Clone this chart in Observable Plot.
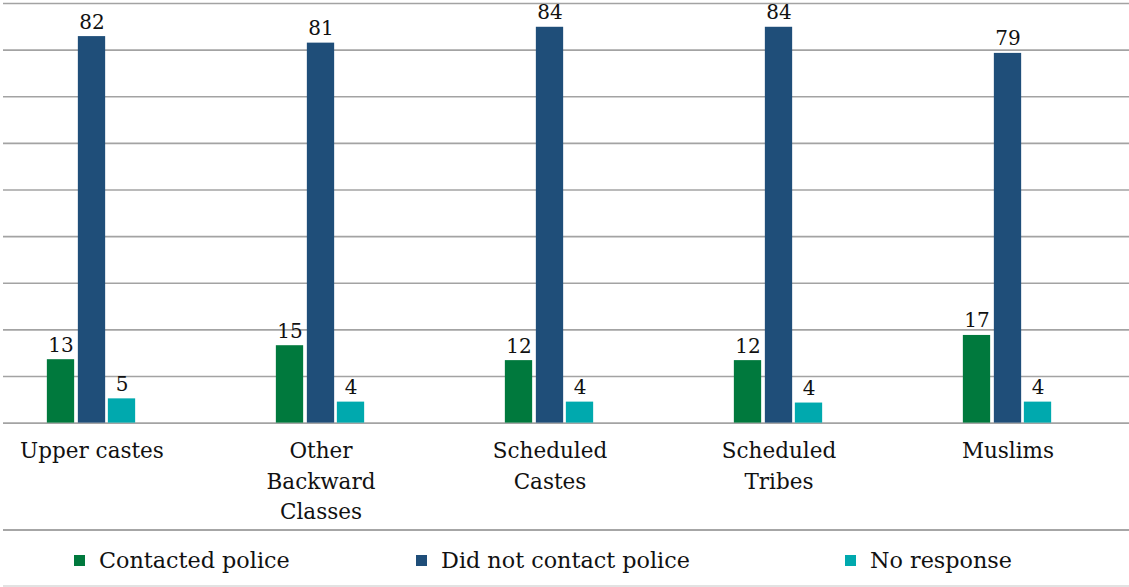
<!DOCTYPE html>
<html>
<head>
<meta charset="utf-8">
<script src="https://cdn.jsdelivr.net/npm/d3@7"></script>
<script src="https://cdn.jsdelivr.net/npm/@observablehq/plot@0.6"></script>
<style>
  html, body { margin: 0; padding: 0; background: #fff; }
  body { width: 1129px; height: 587px; overflow: hidden; font-family: "DejaVu Serif", serif; }
  #chart svg { display: block; }
  #legend { position: relative; margin-left: 3px; width: 1126px; height: 54px;
            border-top: 2px solid #a6a6a6; border-bottom: 2px solid #e2e2e2; }
  .item { position: absolute; top: 2px; height: 54px; display: flex; align-items: center;
          font-size: 22.3px; color: #111; }
  .sw { width: 11px; height: 11px; margin-right: 14px; }
</style>
</head>
<body>
<div id="chart"></div>
<div id="legend"></div>
<script>
// Categories and series
const categories = ["Upper castes", "Other\nBackward\nClasses", "Scheduled\nCastes", "Scheduled\nTribes", "Muslims"];
const series = ["Contacted police", "Did not contact police", "No response"];
// Bar heights
const contacted = [13.6, 16.6, 13.4, 13.4, 18.8];
const notContacted = [82.9, 81.5, 84.9, 84.9, 79.3];
const noResponse = [5.2, 4.5, 4.5, 4.3, 4.5];
// Data labels as printed
const contactedLabels = ["13", "15", "12", "12", "17"];
const notContactedLabels = ["82", "81", "84", "84", "79"];
const noResponseLabels = ["5", "4", "4", "4", "4"];
const colors = ["#00793d", "#1f4e79", "#00a9ae"];
const yTicks = [0, 10, 20, 30, 40, 50, 60, 70, 80, 90];

const seriesValues = [contacted, notContacted, noResponse];
const seriesLabels = [contactedLabels, notContactedLabels, noResponseLabels];
const offsets = [-31, 0, 30];
const legendLeft = [74, 416, 845];

const xRange = [-24, 1122];
const bandWidth = (xRange[1] - xRange[0]) / categories.length;
const barWidth = 27.5;
const inset = (bandWidth - barWidth) / 2;

const marks = [
  Plot.gridY(yTicks, {stroke: "#a3a3a3", strokeOpacity: 1, strokeWidth: 1.6}),
  Plot.axisX({tickSize: 0, tickPadding: 13, fontSize: 21.5, lineHeight: 1.43, fill: "#111",
    fontFamily: "DejaVu Serif", label: null})
];
seriesValues.forEach((vals, k) => {
  const data = categories.map((c, i) => ({category: c, value: vals[i], label: seriesLabels[k][i]}));
  marks.push(Plot.barY(data, {x: "category", y: "value", fill: colors[k], insetLeft: inset, insetRight: inset, dx: offsets[k]}));
  marks.push(Plot.text(data, {x: "category", y: "value", text: "label", dx: offsets[k], dy: -8,
    lineAnchor: "bottom", fontSize: 20, fill: "#111", fontFamily: "DejaVu Serif"}));
});

const chart = Plot.plot({
  width: 1129,
  height: 529,
  marginLeft: 3,
  marginRight: 0,
  marginTop: 3,
  marginBottom: 106.4,
  style: {fontFamily: "DejaVu Serif", background: "#fff"},
  x: {domain: categories, range: xRange, padding: 0, axis: null},
  y: {domain: [0, 90], axis: null},
  marks
});
document.getElementById("chart").appendChild(chart);

const legend = document.getElementById("legend");
series.forEach((s, k) => {
  const item = document.createElement("div");
  item.className = "item";
  item.style.left = (legendLeft[k] - 3) + "px";
  const sw = document.createElement("span");
  sw.className = "sw";
  sw.style.background = colors[k];
  const label = document.createElement("span");
  label.textContent = s;
  item.appendChild(sw);
  item.appendChild(label);
  legend.appendChild(item);
});
</script>
</body>
</html>
